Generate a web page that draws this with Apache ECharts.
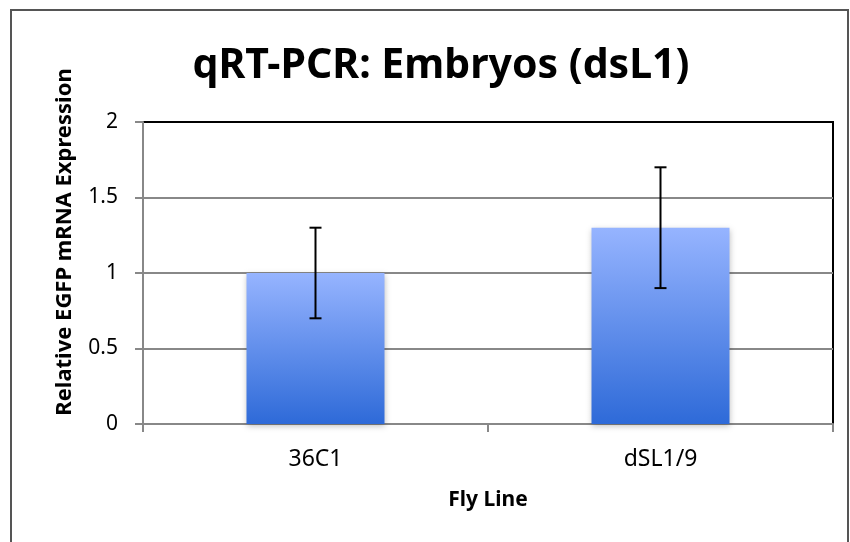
<!DOCTYPE html>
<html>
<head>
<meta charset="utf-8">
<script src="https://cdn.jsdelivr.net/npm/echarts@6/dist/echarts.min.js"></script>
<style>
  html, body { margin: 0; padding: 0; background: #fff; }
  #chart { width: 850px; height: 542px; }
</style>
</head>
<body>
<div id="chart"></div>
<script>
// data
var categories = ['36C1', 'dSL1/9'];
var values = [1.0, 1.3];
var errLow = [0.7, 0.9];
var errHigh = [1.3, 1.7];
var yTicks = [0, 0.5, 1, 1.5, 2];

var font = 'Noto Sans';

var chart = echarts.init(document.getElementById('chart'));

var option = {
  backgroundColor: '#fff',
  animation: false,
  title: {
    text: 'qRT-PCR: Embryos (dsL1)',
    left: 436,
    textAlign: 'center',
    top: 41,
    textStyle: { fontFamily: font, fontSize: 41, fontWeight: 'bold', color: '#000' }
  },
  grid: {
    left: 143, right: 17, top: 122, bottom: 118,
    show: true, borderColor: '#000', borderWidth: 2
  },
  xAxis: {
    type: 'category',
    data: categories,
    name: 'Fly Line',
    nameLocation: 'middle',
    nameGap: 66,
    nameTextStyle: { fontFamily: font, fontSize: 21, fontWeight: 'bold', color: '#000' },
    axisLine: { lineStyle: { color: '#888', width: 2 } },
    axisTick: { show: true, length: 8, lineStyle: { color: '#888', width: 2 } },
    axisLabel: { fontFamily: font, fontSize: 23, color: '#000', margin: 24 }
  },
  yAxis: {
    type: 'value',
    min: yTicks[0],
    max: yTicks[yTicks.length - 1],
    interval: 0.5,
    axisLine: { show: true, lineStyle: { color: '#888', width: 2 } },
    axisTick: { show: true, length: 8, lineStyle: { color: '#888', width: 2 } },
    axisLabel: { fontFamily: font, fontSize: 21, color: '#000', margin: 25 },
    // top line is part of the black plot frame
    splitLine: { lineStyle: { color: ['#888', '#888', '#888', '#888', '#000'], width: 2 } }
  },
  graphic: [
    {
      type: 'rect',
      silent: true,
      shape: { x: 11, y: 10, width: 837, height: 560 },
      style: { fill: null, stroke: '#555', lineWidth: 2 }
    },
    {
      type: 'text',
      x: 65, y: 242,
      rotation: Math.PI / 2,
      style: {
        text: 'Relative EGFP mRNA Expression',
        fontFamily: font, fontSize: 22, fontWeight: 'bold', fill: '#000',
        align: 'center', verticalAlign: 'middle'
      }
    }
  ],
  series: [
    {
      type: 'bar',
      data: values,
      barWidth: '40%',
      itemStyle: {
        color: new echarts.graphic.LinearGradient(0, 0, 0, 1, [
          { offset: 0, color: '#96b4ff' },
          { offset: 1, color: '#2e6ad8' }
        ]),
        shadowColor: 'rgba(0,0,0,0.25)',
        shadowBlur: 6,
        shadowOffsetY: 2
      }
    },
    {
      type: 'custom',
      z: 5,
      data: categories.map(function (c, i) { return [i, errLow[i], errHigh[i]]; }),
      renderItem: function (params, api) {
        var lo = api.coord([api.value(0), api.value(1)]);
        var hi = api.coord([api.value(0), api.value(2)]);
        var w = 6;
        var st = { stroke: '#000', lineWidth: 2 };
        return {
          type: 'group',
          children: [
            { type: 'line', shape: { x1: lo[0], y1: lo[1], x2: hi[0], y2: hi[1] }, style: st },
            { type: 'line', shape: { x1: lo[0] - w, y1: lo[1], x2: lo[0] + w, y2: lo[1] }, style: st },
            { type: 'line', shape: { x1: hi[0] - w, y1: hi[1], x2: hi[0] + w, y2: hi[1] }, style: st }
          ]
        };
      }
    }
  ]
};

chart.setOption(option);
</script>
</body>
</html>
